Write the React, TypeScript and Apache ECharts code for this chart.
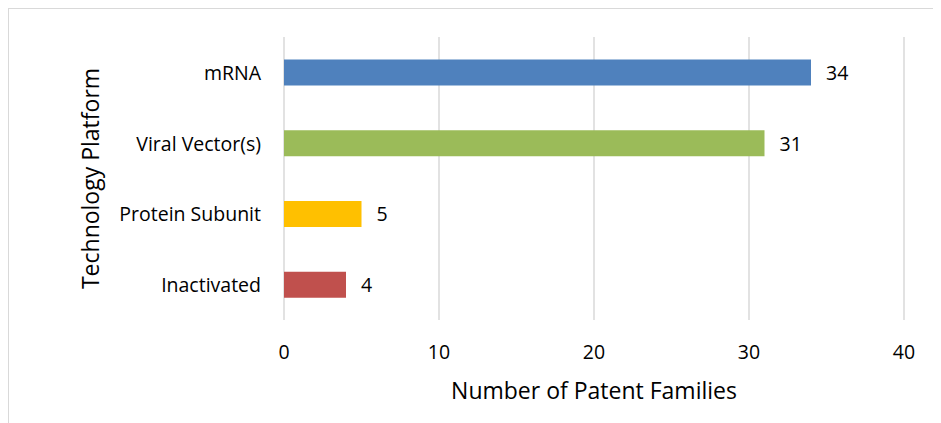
import React, { useEffect, useRef } from "react";
import * as echarts from "echarts";

const categories = ["mRNA", "Viral Vector(s)", "Protein Subunit", "Inactivated"];
const values = [34, 31, 5, 4];
const colors = ["#4F81BD", "#9BBB59", "#FFC000", "#C0504D"];
const xTicks = [0, 10, 20, 30, 40];

const FONT = "'Open Sans', sans-serif";

export default function App() {
  const ref = useRef<HTMLDivElement>(null);
  useEffect(() => {
    if (!ref.current) return;
    const chart = echarts.init(ref.current, null, { renderer: "svg" });
    chart.setOption({
      animation: false,
      backgroundColor: "#ffffff",
      grid: { left: 275, right: 37, top: 28, bottom: 103, containLabel: false },
      xAxis: {
        type: "value",
        min: xTicks[0],
        max: xTicks[xTicks.length - 1],
        interval: 10,
        name: "Number of Patent Families",
        nameLocation: "middle",
        nameGap: 58,
        nameTextStyle: { fontFamily: FONT, fontSize: 23, color: "#000" },
        axisLine: { show: false },
        axisTick: { show: false },
        axisLabel: { fontFamily: FONT, fontSize: 19.5, color: "#000", margin: 21 },
        splitLine: { show: true, lineStyle: { color: "#d9d9d9", width: 1.5 } },
      },
      yAxis: {
        type: "category",
        data: categories,
        inverse: true,
        name: "Technology Platform",
        nameLocation: "middle",
        nameGap: 183,
        nameRotate: 90,
        nameTextStyle: { fontFamily: FONT, fontSize: 23, color: "#000" },
        axisLine: { show: false },
        axisTick: { show: false },
        axisLabel: { fontFamily: FONT, fontSize: 19.5, color: "#000", margin: 23 },
        splitLine: { show: false },
      },
      series: [
        {
          type: "bar",
          data: values.map((v, i) => ({ value: v, itemStyle: { color: colors[i] } })),
          barWidth: 26,
          label: {
            show: true,
            position: "right",
            distance: 15,
            fontFamily: FONT,
            fontSize: 19.5,
            color: "#000",
          },
        },
      ],
    });
    return () => chart.dispose();
  }, []);
  return (
    <div
      style={{
        width: 933,
        height: 415,
        boxSizing: "border-box",
        borderTop: "1.5px solid #d9d9d9",
        borderLeft: "1.5px solid #d9d9d9",
        overflow: "hidden",
      }}
    >
      <div ref={ref} style={{ width: 932, height: 414 }} />
    </div>
  );
}
